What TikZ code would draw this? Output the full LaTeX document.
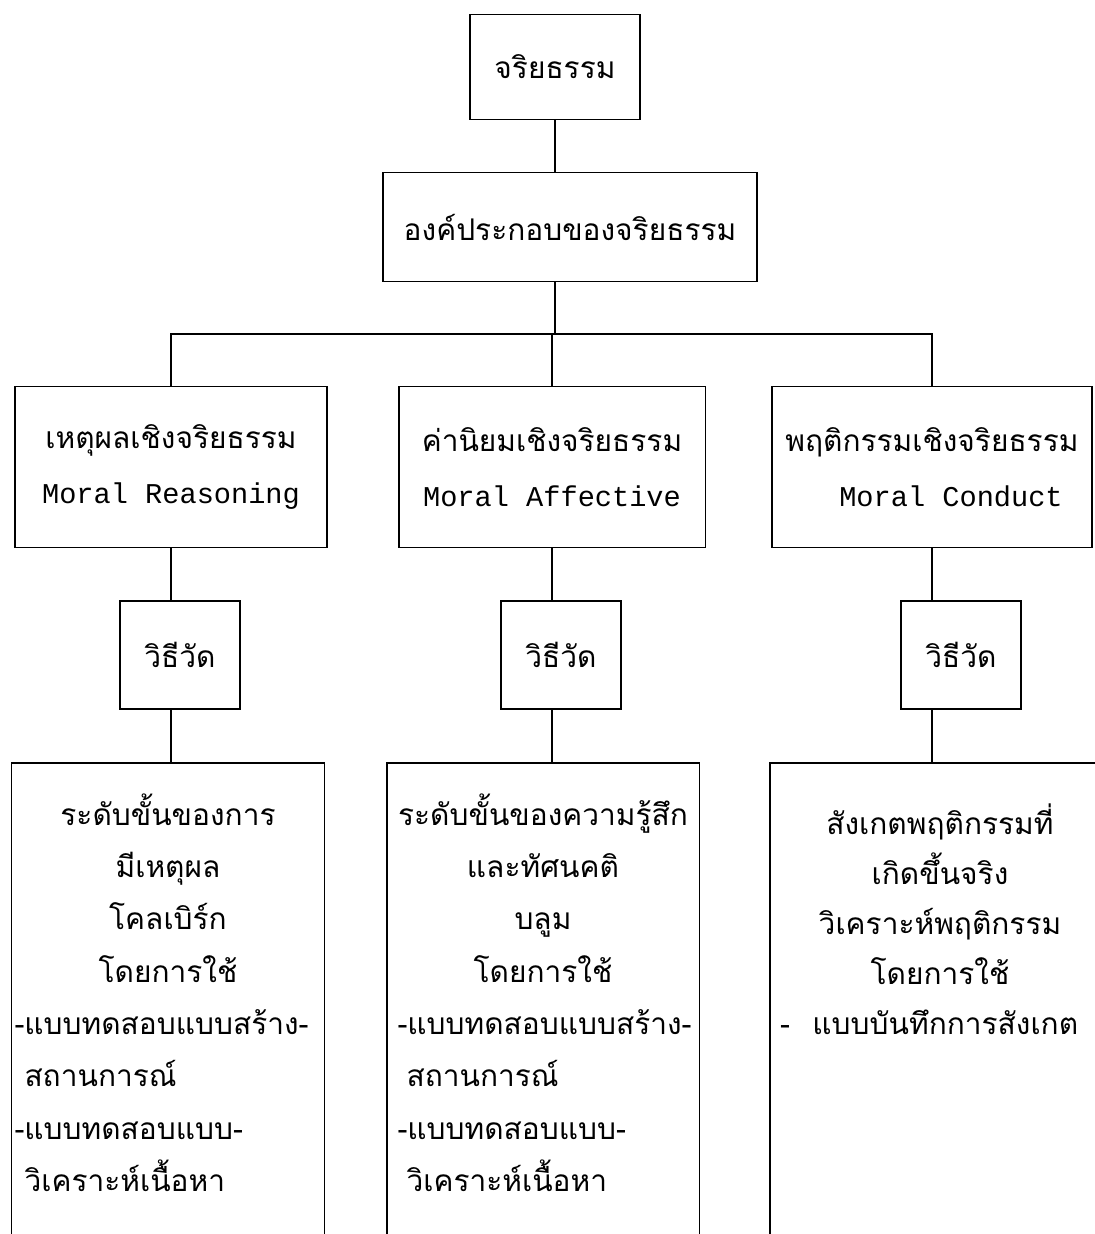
\documentclass[tikz,border=0pt]{standalone}
\usepackage{fontspec}
\newfontfamily\thaifont[Script=Thai]{Loma}
\setmonofont{Liberation Mono}
\usetikzlibrary{positioning}
\newcommand\eng{\ttfamily\fontsize{16.3}{31}\selectfont}
\newcommand\lft[2]{\makebox[\linewidth][l]{\hspace*{#1}#2}}
\tikzset{
	box/.style={draw, line width=1.1pt, inner sep=0pt, align=center, font=\thaifont\fontsize{17}{29.8}\selectfont},
	txt/.style={inner sep=0pt, align=center, font=\thaifont\fontsize{17}{29.8}\selectfont},
	link/.style={line width=1.1pt}
}
\begin{document}
\begin{tikzpicture}[x=0.02cm, y=-0.02cm]
		\useasboundingbox (0, 0) rectangle (1095, 1234);
		\clip (0, 0) rectangle (1095, 1234);
		\node[box, minimum width=3.4cm, minimum height=2.1cm] (ethics) at (555, 67) {จริยธรรม};
		\node[box, minimum width=7.48cm, minimum height=2.18cm] (parts) at (570, 227) {องค์ประกอบของจริยธรรม};
		\coordinate (bus) at (555, 334);
		\node[box, minimum width=6.24cm, minimum height=3.22cm] (reason) at (171, 467) {เหตุผลเชิงจริยธรรม\\[1.5pt]{\eng Moral Reasoning}};
		\node[box, minimum width=6.14cm, minimum height=3.22cm] (affect) at (552, 467) {ค่านิยมเชิงจริยธรรม\\[1.5pt]{\eng Moral Affective}};
		\node[box, minimum width=6.4cm, minimum height=3.22cm] (conduct) at (932, 467) {พฤติกรรมเชิงจริยธรรม\\[1.5pt]{\eng\hspace*{0.76cm}Moral Conduct}};
		\foreach \n/\x in {m1/180, m2/561, m3/961}
			\node[box, minimum width=2.4cm, minimum height=2.16cm] (\n) at (\x, 655) {วิธีวัด};
		\foreach \n/\x/\w in {d1/168/6.26, d2/543/6.26, d3/940/6.8}
			\node[box, minimum width=\w cm, minimum height=10cm, anchor=north] (\n) at (\x, 762) {};
		\node[txt, text width=6.26cm, below=0.62cm of d1.north] (t1) {ระดับขั้นของการ\\มีเหตุผล\\โคลเบิร์ก\\โดยการใช้\\\lft{0.06cm}{-แบบทดสอบแบบสร้าง-}\\\lft{0.26cm}{สถานการณ์}\\\lft{0.06cm}{-แบบทดสอบแบบ-}\\\lft{0.26cm}{วิเคราะห์เนื้อหา}};
		\node[txt, text width=6.26cm, below=0.62cm of d2.north] (t2) {ระดับขั้นของความรู้สึก\\และทัศนคติ\\บลูม\\โดยการใช้\\\lft{0.22cm}{-แบบทดสอบแบบสร้าง-}\\\lft{0.4cm}{สถานการณ์}\\\lft{0.22cm}{-แบบทดสอบแบบ-}\\\lft{0.4cm}{วิเคราะห์เนื้อหา}};
		\node[txt, text width=6.8cm, below=0.82cm of d3.north, font=\thaifont\fontsize{17}{28.5}\selectfont] (t3) {สังเกตพฤติกรรมที่\\เกิดขึ้นจริง\\วิเคราะห์พฤติกรรม\\โดยการใช้\\\lft{0.2cm}{-\hspace{0.45cm}แบบบันทึกการสังเกต}};
		\draw[link] (ethics.south) -- (ethics.south |- parts.north);
		\draw[link] (bus |- parts.south) -- (bus);
		\draw[link] (reason.north) -- (reason.north |- bus) -- (conduct.north |- bus) -- (conduct.north);
		\draw[link] (affect.north) -- (affect.north |- bus);
		\foreach \a/\m/\d in {reason/m1/d1, affect/m2/d2, conduct/m3/d3} {
			\draw[link] (\a.south) -- (\a.south |- \m.north);
			\draw[link] (\a.south |- \m.south) -- (\a.south |- \d.north);
		}
\end{tikzpicture}
\end{document}
